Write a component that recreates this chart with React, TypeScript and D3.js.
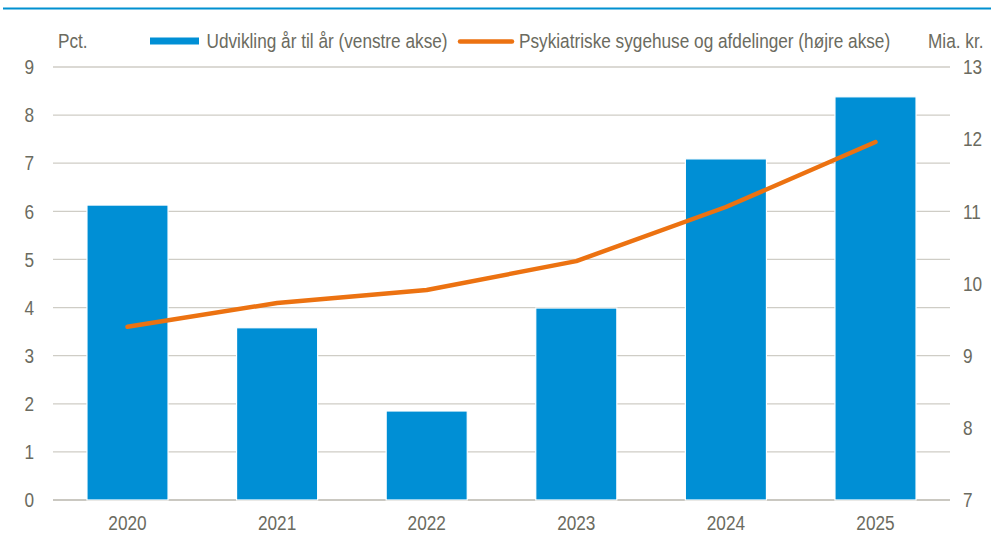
import React, { useRef, useEffect } from 'react';
import * as d3 from 'd3';

const years = ['2020', '2021', '2022', '2023', '2024', '2025'];
const growthPct = [6.13, 3.58, 1.85, 3.99, 7.09, 8.38];
const spendingBn = [9.4, 9.73, 9.91, 10.31, 11.06, 11.96];
const leftTicks = [0, 1, 2, 3, 4, 5, 6, 7, 8, 9];
const rightTicks = [7, 8, 9, 10, 11, 12, 13];
const legendBar = 'Udvikling år til år (venstre akse)';
const legendLine = 'Psykiatriske sygehuse og afdelinger (højre akse)';

const App = () => {
    const chartRef = useRef<SVGSVGElement>(null);

    useEffect(() => {
        const svg = d3.select(chartRef.current);
        svg.selectAll('*').remove();

        const width = 991;
        const height = 535;
        const left = 53, right = 950, top = 67, bottom = 500;
        const textColor = '#6b6b60';
        const font = '"Liberation Sans", Arial, sans-serif';
        const fontSize = 20.5;
        const squeeze = 0.84; // no narrow font installed, so condense by hand

        const x = d3.scaleBand().domain(years).range([left, right]).paddingInner(0.458).paddingOuter(0.227);
        const yLeft = d3.scaleLinear().domain([0, 9]).range([bottom, top]);
        const yRight = d3.scaleLinear().domain([7, 13]).range([bottom, top]);

        svg.attr('width', width).attr('height', height);

        // top rule
        svg.append('line')
            .attr('x1', 3).attr('x2', width).attr('y1', 8.5).attr('y2', 8.5)
            .attr('stroke', '#0090d0').attr('stroke-width', 2);

        // gridlines
        svg.append('g')
            .selectAll('line')
            .data(leftTicks)
            .join('line')
            .attr('x1', left).attr('x2', right)
            .attr('y1', (d) => yLeft(d)).attr('y2', (d) => yLeft(d))
            .attr('stroke', (d) => (d === 0 ? '#b8b6ac' : '#cfcdc6'))
            .attr('stroke-width', 1.3);

        // bars
        svg.append('g')
            .selectAll('rect')
            .data(growthPct)
            .join('rect')
            .attr('x', (d, i) => x(years[i]) as number)
            .attr('y', (d) => yLeft(d))
            .attr('width', x.bandwidth())
            .attr('height', (d) => yLeft(0) - yLeft(d))
            .attr('fill', '#008fd5')
            .attr('stroke', '#ffffff')
            .attr('stroke-width', 1.2);

        // line
        const line = d3.line<number>()
            .x((d, i) => (x(years[i]) as number) + x.bandwidth() / 2)
            .y((d) => yRight(d));

        svg.append('path')
            .datum(spendingBn)
            .attr('d', line)
            .attr('fill', 'none')
            .attr('stroke', '#ec7211')
            .attr('stroke-width', 4.5)
            .attr('stroke-linecap', 'round')
            .attr('stroke-linejoin', 'round');

        const label = (tx: number, ty: number, str: string | number, anchor = 'start') =>
            svg.append('text')
                .attr('transform', `translate(${tx},${ty}) scale(${squeeze},1)`)
                .attr('dy', '0.35em')
                .attr('text-anchor', anchor)
                .attr('font-family', font)
                .attr('font-size', fontSize)
                .attr('fill', textColor)
                .text(str);

        // axes labels
        leftTicks.forEach((d) => label(34, yLeft(d), d, 'end'));
        rightTicks.forEach((d) => label(963, yRight(d), d));
        years.forEach((d) => label((x(d) as number) + x.bandwidth() / 2, 523, d, 'middle'));

        // axis titles
        label(58, 41, 'Pct.');
        label(928, 41, 'Mia. kr.');

        // legend
        svg.append('rect')
            .attr('x', 150).attr('y', 37.5).attr('width', 49).attr('height', 7)
            .attr('fill', '#008fd5');
        label(206.5, 41, legendBar);
        svg.append('line')
            .attr('x1', 460).attr('x2', 512).attr('y1', 41.5).attr('y2', 41.5)
            .attr('stroke', '#ec7211').attr('stroke-width', 4.5)
            .attr('stroke-linecap', 'round');
        label(519, 41, legendLine);
    }, []);

    return <svg ref={chartRef} style={{ position: 'absolute', left: 0, top: 0 }}></svg>;
};

export default App;
